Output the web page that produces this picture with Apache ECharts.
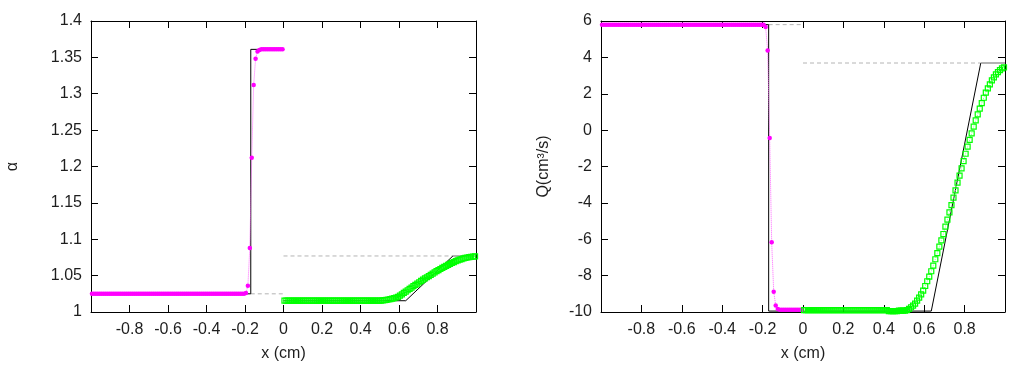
<!DOCTYPE html>
<html>
<head>
<meta charset="utf-8">
<script src="https://cdn.jsdelivr.net/npm/echarts@6/dist/echarts.min.js"></script>
<style>
html,body{margin:0;padding:0;background:#fff;}
#c{width:1020px;height:373px;}
</style>
</head>
<body>
<div id="c"></div>
<script>
// ---------- DATA ----------
const xTicks = [-1, -0.8, -0.6, -0.4, -0.2, 0, 0.2, 0.4, 0.6, 0.8, 1];
const alphaTicks = [1, 1.05, 1.1, 1.15, 1.2, 1.25, 1.3, 1.35, 1.4];
const qTicks = [-10, -8, -6, -4, -2, 0, 2, 4, 6];

// cell centres, left state (magenta) and right state (green)
const xLeft = [-0.995,-0.985,-0.975,-0.965,-0.955,-0.945,-0.935,-0.925,-0.915,-0.905,
-0.895,-0.885,-0.875,-0.865,-0.855,-0.845,-0.835,-0.825,-0.815,-0.805,
-0.795,-0.785,-0.775,-0.765,-0.755,-0.745,-0.735,-0.725,-0.715,-0.705,
-0.695,-0.685,-0.675,-0.665,-0.655,-0.645,-0.635,-0.625,-0.615,-0.605,
-0.595,-0.585,-0.575,-0.565,-0.555,-0.545,-0.535,-0.525,-0.515,-0.505,
-0.495,-0.485,-0.475,-0.465,-0.455,-0.445,-0.435,-0.425,-0.415,-0.405,
-0.395,-0.385,-0.375,-0.365,-0.355,-0.345,-0.335,-0.325,-0.315,-0.305,
-0.295,-0.285,-0.275,-0.265,-0.255,-0.245,-0.235,-0.225,-0.215,-0.205,
-0.195,-0.185,-0.175,-0.165,-0.155,-0.145,-0.135,-0.125,-0.115,-0.105,
-0.095,-0.085,-0.075,-0.065,-0.055,-0.045,-0.035,-0.025,-0.015,-0.005];

const xRight = [0.005,0.015,0.025,0.035,0.045,0.055,0.065,0.075,0.085,0.095,
0.105,0.115,0.125,0.135,0.145,0.155,0.165,0.175,0.185,0.195,
0.205,0.215,0.225,0.235,0.245,0.255,0.265,0.275,0.285,0.295,
0.305,0.315,0.325,0.335,0.345,0.355,0.365,0.375,0.385,0.395,
0.405,0.415,0.425,0.435,0.445,0.455,0.465,0.475,0.485,0.495,
0.505,0.515,0.525,0.535,0.545,0.555,0.565,0.575,0.585,0.595,
0.605,0.615,0.625,0.635,0.645,0.655,0.665,0.675,0.685,0.695,
0.705,0.715,0.725,0.735,0.745,0.755,0.765,0.775,0.785,0.795,
0.805,0.815,0.825,0.835,0.845,0.855,0.865,0.875,0.885,0.895,
0.905,0.915,0.925,0.935,0.945,0.955,0.965,0.975,0.985,0.995];

const alphaLeft = [1.025,1.025,1.025,1.025,1.025,1.025,1.025,1.025,1.025,1.025,
1.025,1.025,1.025,1.025,1.025,1.025,1.025,1.025,1.025,1.025,
1.025,1.025,1.025,1.025,1.025,1.025,1.025,1.025,1.025,1.025,
1.025,1.025,1.025,1.025,1.025,1.025,1.025,1.025,1.025,1.025,
1.025,1.025,1.025,1.025,1.025,1.025,1.025,1.025,1.025,1.025,
1.025,1.025,1.025,1.025,1.025,1.025,1.025,1.025,1.025,1.025,
1.025,1.025,1.025,1.025,1.025,1.025,1.025,1.025,1.025,1.025,
1.025,1.025,1.025,1.025,1.025,1.025,1.025,1.025,1.025,1.025,
1.026,1.036,1.088,1.212,1.312,1.348,1.358,1.360,1.361,1.361,
1.361,1.361,1.361,1.361,1.361,1.361,1.361,1.361,1.361,1.361];

const alphaRight = [1.0155,1.0155,1.0155,1.0155,1.0155,1.0155,1.0155,1.0155,1.0155,1.0155,
1.0155,1.0155,1.0155,1.0155,1.0155,1.0155,1.0155,1.0155,1.0155,1.0155,
1.0155,1.0155,1.0155,1.0155,1.0155,1.0155,1.0155,1.0155,1.0155,1.0155,
1.0155,1.0155,1.0155,1.0155,1.0155,1.0155,1.0155,1.0155,1.0155,1.0155,
1.0155,1.0155,1.0155,1.0155,1.0155,1.0155,1.0155,1.0155,1.0155,1.0156,
1.0157,1.0160,1.0163,1.0167,1.0172,1.0178,1.0184,1.0191,1.0199,1.0208,
1.0225,1.0243,1.0262,1.0281,1.0299,1.0318,1.0336,1.0355,1.0373,1.0391,
1.0409,1.0427,1.0444,1.0461,1.0478,1.0494,1.0511,1.0528,1.0545,1.0561,
1.0576,1.0591,1.0606,1.0620,1.0634,1.0648,1.0661,1.0674,1.0686,1.0698,
1.0709,1.0719,1.0728,1.0736,1.0743,1.0749,1.0754,1.0758,1.0762,1.0765];

const qLeft = [5.8,5.8,5.8,5.8,5.8,5.8,5.8,5.8,5.8,5.8,
5.8,5.8,5.8,5.8,5.8,5.8,5.8,5.8,5.8,5.8,
5.8,5.8,5.8,5.8,5.8,5.8,5.8,5.8,5.8,5.8,
5.8,5.8,5.8,5.8,5.8,5.8,5.8,5.8,5.8,5.8,
5.8,5.8,5.8,5.8,5.8,5.8,5.8,5.8,5.8,5.8,
5.8,5.8,5.8,5.8,5.8,5.8,5.8,5.8,5.8,5.8,
5.8,5.8,5.8,5.8,5.8,5.8,5.8,5.8,5.8,5.8,
5.8,5.8,5.8,5.8,5.8,5.8,5.8,5.8,5.8,5.8,
5.79,5.67,4.38,-0.43,-6.17,-8.88,-9.64,-9.84,-9.87,-9.87,
-9.87,-9.87,-9.87,-9.87,-9.87,-9.87,-9.87,-9.87,-9.87,-9.87];

const qRight = [-9.9,-9.9,-9.9,-9.9,-9.9,-9.9,-9.9,-9.9,-9.9,-9.9,
-9.9,-9.9,-9.9,-9.9,-9.9,-9.9,-9.9,-9.9,-9.9,-9.9,
-9.9,-9.9,-9.9,-9.9,-9.9,-9.9,-9.9,-9.9,-9.9,-9.9,
-9.9,-9.9,-9.9,-9.9,-9.9,-9.9,-9.9,-9.9,-9.9,-9.9,
-9.9,-9.9,-9.95,-9.95,-9.95,-9.95,-9.95,-9.92,-9.92,-9.92,
-9.92,-9.90,-9.83,-9.74,-9.65,-9.54,-9.38,-9.21,-9.03,-8.83,
-8.57,-8.31,-8.06,-7.76,-7.45,-7.10,-6.76,-6.41,-6.06,-5.71,
-5.31,-4.92,-4.52,-4.12,-3.71,-3.31,-2.89,-2.50,-2.10,-1.70,
-1.30,-0.91,-0.54,-0.18,0.19,0.54,0.87,1.18,1.49,1.78,
2.06,2.30,2.52,2.74,2.90,3.07,3.19,3.30,3.40,3.45];

// exact solution polylines
const exAlphaLX = [-1, -0.17, -0.17, 0];
const exAlphaLY = [1.025, 1.025, 1.361, 1.361];
const exAlphaRX = [0, 0.635, 0.88];
const exAlphaRY = [1.0155, 1.0155, 1.077];
const exAlphaTailX = [0.88, 1];
const exAlphaTailY = [1.077, 1.077];
const dashAlpha1X = [-0.17, 0], dashAlpha1Y = [1.025, 1.025];
const dashAlpha2X = [0, 0.88], dashAlpha2Y = [1.077, 1.077];

const exQX = [-1, -0.17, -0.17, 0.635, 0.88];
const exQY = [5.8, 5.8, -9.95, -9.95, 3.69];
const exQTailX = [0.88, 1];
const exQTailY = [3.69, 3.69];
const dashQ1X = [-0.17, 0], dashQ1Y = [5.8, 5.8];
const dashQ2X = [0, 0.88], dashQ2Y = [3.69, 3.69];

// ---------- CHART ----------
const FONT = '"Liberation Sans", Arial, sans-serif';
const TXT = '#1e1e1e';
const pairs = (xs, ys) => xs.map((x, i) => [x, ys[i]]);

function xAx(gi, top) {
  return {
    type: 'value', gridIndex: gi, position: top ? 'top' : 'bottom',
    min: -1, max: 1, interval: 0.2,
    name: top ? '' : 'x (cm)', nameLocation: 'middle', nameGap: 34,
    nameTextStyle: {fontFamily: FONT, fontSize: 16, color: TXT},
    axisLine: {show: true, onZero: false, lineStyle: {color: '#000', width: 1}},
    axisTick: {show: true, inside: true, length: 7, lineStyle: {color: '#000', width: 1}},
    axisLabel: {show: !top, showMinLabel: false, showMaxLabel: false, margin: 10,
      fontFamily: FONT, fontSize: 16, color: TXT},
    splitLine: {show: false}
  };
}
function yAx(gi, right, min, max, interval, name, gap) {
  return {
    type: 'value', gridIndex: gi, position: right ? 'right' : 'left',
    min: min, max: max, interval: interval,
    name: right ? '' : name, nameLocation: 'middle', nameGap: gap,
    nameTextStyle: {fontFamily: FONT, fontSize: 16, color: TXT},
    axisLine: {show: true, onZero: false, lineStyle: {color: '#000', width: 1}},
    axisTick: {show: true, inside: true, length: 7, lineStyle: {color: '#000', width: 1}},
    axisLabel: {show: !right, margin: 9, fontFamily: FONT, fontSize: 16, color: TXT},
    splitLine: {show: false}
  };
}
function lineS(xi, yi, data, color, width, type, z) {
  return {type: 'line', xAxisIndex: xi, yAxisIndex: yi, data: data, showSymbol: false,
    symbol: 'none', lineStyle: {color: color, width: width, type: type}, z: z, silent: true};
}
function magS(xi, yi, data) {
  return {type: 'line', xAxisIndex: xi, yAxisIndex: yi, data: data, symbol: 'circle',
    symbolSize: 4.5, showAllSymbol: true, itemStyle: {color: '#ff00ff'},
    lineStyle: {color: '#ff66ff', width: 1, type: 'dotted'}, z: 5, silent: true};
}
function grnS(xi, yi, data) {
  return {type: 'line', xAxisIndex: xi, yAxisIndex: yi, data: data, symbol: 'rect',
    symbolSize: 5, showAllSymbol: true,
    itemStyle: {color: 'rgba(0,0,0,0)', borderColor: '#00ff00', borderWidth: 1.2},
    lineStyle: {color: '#88ff88', width: 1, type: 'dotted'}, z: 5, silent: true};
}

const chart = echarts.init(document.getElementById('c'), null, {renderer: 'canvas'});
chart.setOption({
  animation: false,
  backgroundColor: '#fff',
  grid: [
    {left: 91, top: 21, width: 385, height: 291},
    {left: 601, top: 21, width: 404, height: 291}
  ],
  xAxis: [xAx(0, false), xAx(0, true), xAx(1, false), xAx(1, true)],
  yAxis: [
    yAx(0, false, 1, 1.4, 0.05, 'α', 70),
    yAx(0, true, 1, 1.4, 0.05, '', 0),
    yAx(1, false, -10, 6, 2, 'Q(cm³/s)', 49),
    yAx(1, true, -10, 6, 2, '', 0)
  ],
  series: [
    lineS(0, 0, pairs(dashAlpha1X, dashAlpha1Y), '#b4b4b4', 1, [4, 3], 1),
    lineS(0, 0, pairs(dashAlpha2X, dashAlpha2Y), '#b4b4b4', 1, [4, 3], 1),
    lineS(0, 0, pairs(exAlphaLX, exAlphaLY), '#000', 1, 'solid', 2),
    lineS(0, 0, pairs(exAlphaRX, exAlphaRY), '#000', 1, 'solid', 2),
    lineS(0, 0, pairs(exAlphaTailX, exAlphaTailY), '#999', 1.5, 'solid', 2),
    magS(0, 0, pairs(xLeft, alphaLeft)),
    grnS(0, 0, pairs(xRight, alphaRight)),

    lineS(2, 2, pairs(dashQ1X, dashQ1Y), '#b4b4b4', 1, [4, 3], 1),
    lineS(2, 2, pairs(dashQ2X, dashQ2Y), '#b4b4b4', 1, [4, 3], 1),
    lineS(2, 2, pairs(exQX, exQY), '#000', 1, 'solid', 2),
    lineS(2, 2, pairs(exQTailX, exQTailY), '#999', 1.5, 'solid', 2),
    magS(2, 2, pairs(xLeft, qLeft)),
    grnS(2, 2, pairs(xRight, qRight))
  ]
});
</script>
</body>
</html>
